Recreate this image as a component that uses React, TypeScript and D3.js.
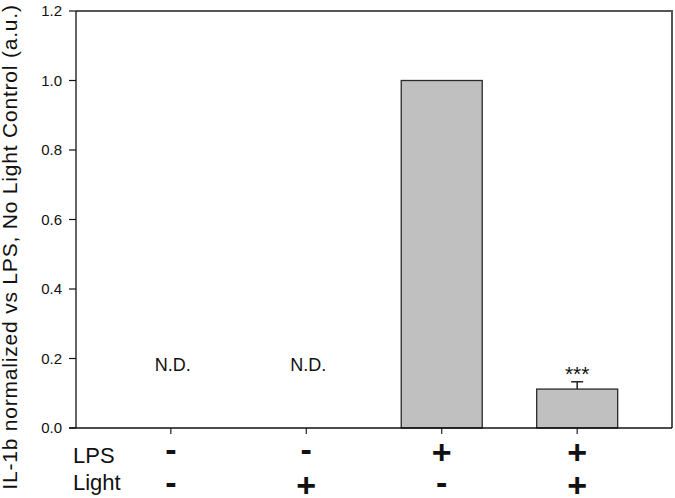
import React from 'react';
import * as d3 from 'd3';

// data
const groups = [1, 2, 3, 4];
const lpsSigns = ['-', '-', '+', '+'];
const lightSigns = ['-', '+', '-', '+'];
const values = [null, null, 1.0, 0.112];
const errors = [0, 0, 0, 0.021];
const notes = ['N.D.', 'N.D.', '', '***'];
const yTicks = [0, 0.2, 0.4, 0.6, 0.8, 1.0, 1.2];

const W = 675, H = 498;
const left = 76, right = 672, top = 11, bottom = 428;
const font = 'Arial, "Liberation Sans", sans-serif';

const App = () => {
  const x = d3.scaleLinear().domain([0.3, 4.7]).range([left, right]);
  const y = d3.scaleLinear().domain([0, 1.2]).range([bottom, top]);
  const barW = 81;

  // baseline offsets so + and - sit on the same centre line
  const signY = (s, c) => c + (s === '+' ? 0.35 : 0.255) * 34;

  return (
    <svg width={W} height={H} style={{ position: 'fixed', left: 0, top: 0, background: '#fff' }}>
      {/* frame top/right */}
      <path d={`M${left},${top}H${right}V${bottom}`} fill="none" stroke="#555" strokeWidth={2} />

      {groups.map((g, i) => {
        const v = values[i];
        const cx = x(g);
        return (
          <g key={g}>
            {v != null && (
              <rect x={cx - barW / 2} y={y(v)} width={barW} height={y(0) - y(v)}
                fill="#c0c0c0" stroke="#2a2a2a" strokeWidth={1.3} />
            )}
            {v != null && errors[i] > 0 && (
              <g stroke="#222" strokeWidth={1.5}>
                <line x1={cx} x2={cx} y1={y(v)} y2={y(v + errors[i])} />
                <line x1={cx - 6} x2={cx + 6} y1={y(v + errors[i])} y2={y(v + errors[i])} />
              </g>
            )}
            {notes[i] === 'N.D.' && (
              <text x={cx + 2} y={371} textAnchor="middle" fontFamily={font} fontSize={18} fill="#111">N.D.</text>
            )}
            {notes[i] === '***' && v != null && (
              <text x={cx} y={y(v + errors[i]) - 1} textAnchor="middle" fontFamily={font} fontSize={21}
                fill="#111">***</text>
            )}
            <line x1={cx} x2={cx} y1={bottom} y2={bottom + 6} stroke="#222" strokeWidth={1.2} />
            <text x={cx} y={signY(lpsSigns[i], 452.5)} textAnchor="middle" fontFamily={font}
              fontWeight="bold" fontSize={34} fill="#111">{lpsSigns[i]}</text>
            <text x={cx} y={signY(lightSigns[i], 485.5)} textAnchor="middle" fontFamily={font}
              fontWeight="bold" fontSize={34} fill="#111">{lightSigns[i]}</text>
          </g>
        );
      })}

      {/* left and bottom axes */}
      <line x1={left} x2={left} y1={top} y2={bottom} stroke="#111" strokeWidth={1.3} />
      <line x1={left - 7} x2={right} y1={bottom} y2={bottom} stroke="#111" strokeWidth={1.3} />
      {yTicks.map(t => (
        <g key={t}>
          <line x1={left - 7} x2={left} y1={y(t)} y2={y(t)} stroke="#111" strokeWidth={1.2} />
          <text x={left - 14} y={y(t) + 5} textAnchor="end" fontFamily={font} fontSize={15} fill="#111">
            {d3.format('.1f')(t)}
          </text>
        </g>
      ))}

      <text x={73} y={463} fontFamily={font} fontSize={22} fill="#111">LPS</text>
      <text x={73} y={490} fontFamily={font} fontSize={22} fill="#111">Light</text>

      <text transform={`translate(17,247) rotate(-90)`} textAnchor="middle"
        fontFamily={font} fontSize={21} letterSpacing={0.8} fill="#111">
        IL-1b normalized vs LPS, No Light Control (a.u.)
      </text>
    </svg>
  );
};

export default App;
